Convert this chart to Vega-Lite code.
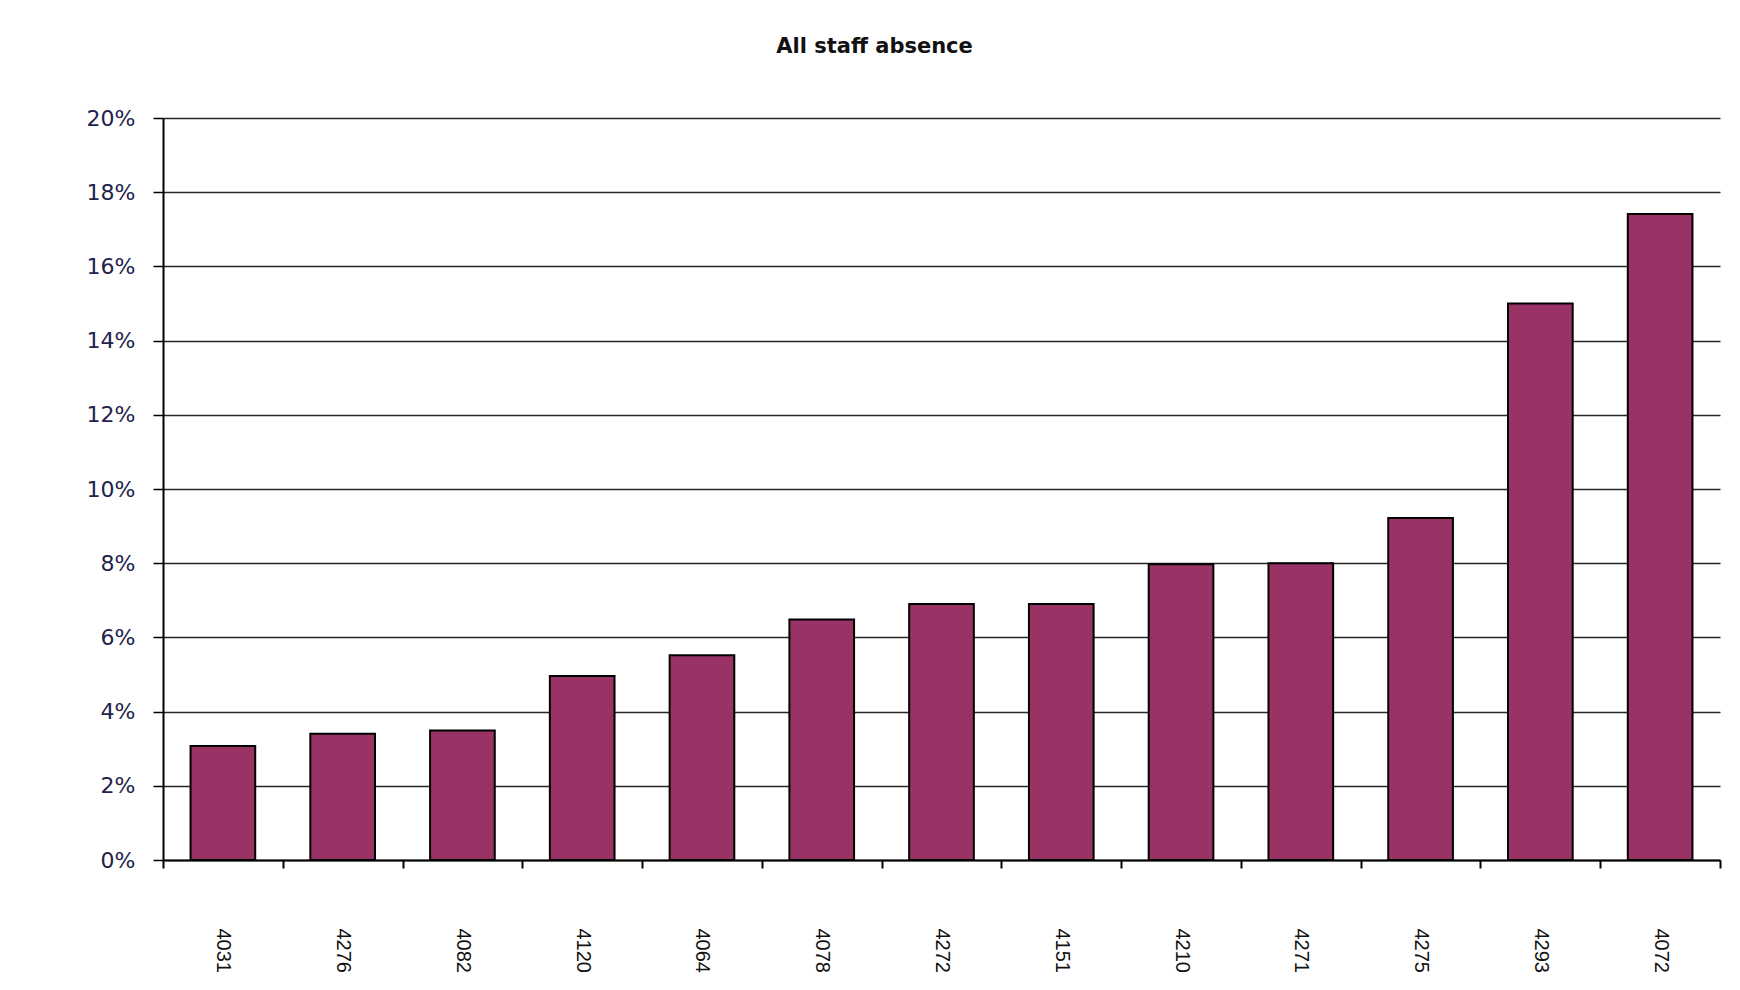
{
  "$schema": "https://vega.github.io/schema/vega-lite/v6.json",
  "autosize": "none",
  "width": 1557,
  "height": 742,
  "padding": {"left": 163, "top": 118, "right": 20, "bottom": 130},
  "background": "white",
  "title": {
    "text": "All staff absence",
    "font": "DejaVu Sans",
    "fontSize": 21,
    "fontWeight": "bold",
    "color": "#111111",
    "anchor": "middle",
    "dx": -67,
    "offset": 50
  },
  "data": {
    "values": [
      {"code": "4031", "absence": 0.0307},
      {"code": "4276", "absence": 0.0340},
      {"code": "4082", "absence": 0.0349},
      {"code": "4120", "absence": 0.0496},
      {"code": "4064", "absence": 0.0552},
      {"code": "4078", "absence": 0.0648},
      {"code": "4272", "absence": 0.0690},
      {"code": "4151", "absence": 0.0690},
      {"code": "4210", "absence": 0.0797},
      {"code": "4271", "absence": 0.0800},
      {"code": "4275", "absence": 0.0922},
      {"code": "4293", "absence": 0.1500},
      {"code": "4072", "absence": 0.1741}
    ]
  },
  "mark": {"type": "bar", "color": "#993366", "stroke": "#000000", "strokeWidth": 2, "width": {"band": 0.54}},
  "encoding": {
    "x": {
      "field": "code",
      "type": "nominal",
      "sort": null,
      "title": null,
      "scale": {"paddingInner": 0, "paddingOuter": 0},
      "axis": {
        "labelAngle": 90,
        "labelAlign": "left",
        "labelBaseline": "middle",
        "labelPadding": 60,
        "labelFont": "Liberation Sans",
        "labelFontSize": 20,
        "labelColor": "#111111",
        "tickBand": "extent",
        "tickSize": 8,
        "tickColor": "#000000",
        "tickWidth": 2,
        "domainColor": "#000000",
        "domainWidth": 2,
        "grid": false
      }
    },
    "y": {
      "field": "absence",
      "type": "quantitative",
      "title": null,
      "scale": {"domain": [0, 0.2], "nice": false},
      "axis": {
        "format": ".0%",
        "values": [0, 0.02, 0.04, 0.06, 0.08, 0.1, 0.12, 0.14, 0.16, 0.18, 0.2],
        "labelFont": "DejaVu Sans",
        "labelFontSize": 22,
        "labelColor": "#22224a",
        "labelPadding": 18,
        "tickSize": 10,
        "tickColor": "#000000",
        "tickWidth": 1.5,
        "domainColor": "#000000",
        "domainWidth": 2,
        "grid": true,
        "gridColor": "#000000",
        "gridWidth": 1.3,
        "gridOpacity": 0.85
      }
    }
  },
  "config": {
    "view": {"stroke": null}
  }
}
